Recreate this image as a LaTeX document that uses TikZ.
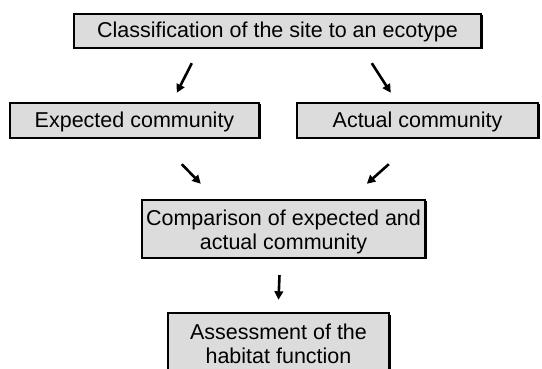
\documentclass[tikz,border=0pt]{standalone}
\usepackage{fontspec}
\setmainfont{Liberation Sans}
\usetikzlibrary{calc,arrows.meta,shadows}
\definecolor{boxgray}{RGB}{220,220,220}
\tikzset{
  box/.style={draw=black, line width=2.4pt, fill=boxgray, inner sep=0pt,
    drop shadow={shadow xshift=1.5pt, shadow yshift=-1.5pt, fill=black, opacity=1},
    font=\fontsize{21.5}{24.5}\selectfont, align=center},
  lbl/.style={inner sep=0pt, font=\fontsize{21.5}{24}\selectfont, align=center},
  arr/.style={line width=2.6pt, -{Triangle[length=8.5pt,width=8.5pt]}}
}
\begin{document}
\begin{tikzpicture}[x=1pt,y=-1pt]
\useasboundingbox (0,0) rectangle (542,369);
\clip (0,0) rectangle (542,369);
\node[box, minimum width=407pt, minimum height=34pt] (top) at (277.5,31) {};
\node[lbl] (topt) at ($(top.center)+(0,1)$) {Classification of the site to an ecotype};
\node[box, minimum width=249pt, minimum height=35pt] (exp) at (134.5,120.5) {};
\node[lbl] (expt) at ($(exp.center)+(0,1)$) {Expected community};
\node[box, minimum width=241pt, minimum height=35pt] (act) at (417.5,120.5) {};
\node[lbl] (actt) at ($(act.center)+(0,1)$) {Actual community};
\node[box, minimum width=283pt, minimum height=58pt] (cmp) at (283.5,229) {};
\node[lbl] (cmpt) at ($(cmp.center)+(0,3)$) {Comparison of expected and\\actual community};
\node[box, minimum width=221pt, minimum height=80pt] (ass) at (278.5,353) {};
\node[lbl, anchor=north] (asst) at ($(ass.north)+(0,12)$) {Assessment of the\\habitat function};
\draw[arr] ($(top.south west)+(119,14)$) -- ($(exp.north west)+(168,-9)$);
\draw[arr] ($(top.south west)+(299,14)$) -- ($(act.north west)+(95,-9)$);
\draw[arr] ($(exp.south west)+(173,25)$) -- ($(cmp.north west)+(60,-15)$);
\draw[arr] ($(act.south west)+(93,25)$) -- ($(cmp.north west)+(226,-15)$);
\draw[arr] ($(cmp.south)+(-4,16)$) -- ($(ass.north)+(0,-12)$);
\end{tikzpicture}
\end{document}
